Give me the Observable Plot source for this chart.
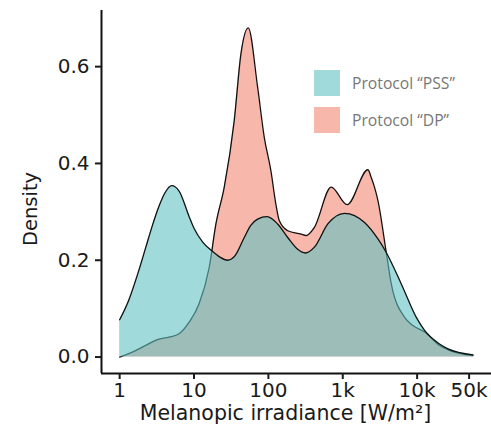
<!DOCTYPE html>
<html><head><meta charset="utf-8">
<script src="https://cdn.jsdelivr.net/npm/d3@7"></script>
<script src="https://cdn.jsdelivr.net/npm/@observablehq/plot@0.6"></script>
<style>
body{margin:0;background:#fff;}
#wrap{position:relative;width:491px;height:428px;}
.leg{position:absolute;left:314px;height:26px;display:flex;align-items:center;font-family:"Open Sans",sans-serif;font-size:15.7px;color:#777;}
.leg span.sw{display:inline-block;width:26px;height:26px;margin-right:12px;}
</style></head><body><div id="wrap"></div>
<script>
// Data
const seriesNames = ["Protocol “PSS”", "Protocol “DP”"];
const seriesColors = ["#a0dadb", "#f8b7ab"];
const pssX = [1, 1.33, 1.82, 2.24, 2.76, 3.39, 4.17, 5.0, 6.3, 8.6, 10, 13, 17.2, 22, 28.3, 35, 47.4, 58, 71.7, 96, 133, 182, 250, 314, 416, 630, 1055, 1963, 2972, 3845, 6124, 9750, 12600, 20000, 26000, 56600];
const pssY = [0.077, 0.118, 0.180, 0.226, 0.272, 0.312, 0.342, 0.354, 0.343, 0.290, 0.266, 0.238, 0.220, 0.207, 0.200, 0.208, 0.247, 0.272, 0.285, 0.290, 0.275, 0.247, 0.222, 0.215, 0.227, 0.275, 0.297, 0.278, 0.244, 0.216, 0.151, 0.082, 0.055, 0.027, 0.017, 0.0045];
const dpX = [1, 1.48, 2.24, 3.22, 4.62, 6.3, 8.6, 11.7, 16, 19.7, 25.5, 34.7, 42.7, 53.6, 71.7, 88, 108, 126, 140, 182, 275, 321, 416, 698, 1146, 2178, 2415, 2672, 2972, 3845, 4490, 6790, 8800, 12600, 20000, 26000, 56000];
const dpY = [0.0, 0.01, 0.024, 0.036, 0.041, 0.048, 0.072, 0.11, 0.185, 0.275, 0.351, 0.488, 0.626, 0.68, 0.557, 0.454, 0.385, 0.316, 0.282, 0.261, 0.254, 0.251, 0.268, 0.351, 0.315, 0.387, 0.371, 0.351, 0.323, 0.216, 0.151, 0.082, 0.065, 0.052, 0.024, 0.015, 0.003];
const xTicks = [1, 10, 100, 1000, 10000, 50000];
const xTickLabels = ["1", "10", "100", "1k", "10k", "50k"];
const yTicks = [0, 0.2, 0.4, 0.6];
const xLabel = "Melanopic irradiance [W/m²]";
const yLabel = "Density";
const xDomain = [0.57, 100000];
const yDomain = [-0.034, 0.716];

const pss = pssX.map((x, i) => ({x, y: pssY[i]}));
const dp = dpX.map((x, i) => ({x, y: dpY[i]}));
const curve = "monotone-x";

const plot = Plot.plot({
  width: 491, height: 428,
  marginLeft: 101, marginRight: 0, marginTop: 10, marginBottom: 55,
  x: {type: "log", domain: xDomain},
  y: {domain: yDomain},
  style: {fontFamily: "DejaVu Sans", fontSize: "20px", color: "#1a1a1a", background: "#fff", overflow: "visible"},
  marks: [
    Plot.areaY(dp, {x: "x", y: "y", fill: seriesColors[1], curve}),
    Plot.lineY(dp, {x: "x", y: "y", stroke: "#111", strokeWidth: 1.3, curve}),
    Plot.areaY(pss, {x: "x", y: "y", fill: "#61c1c3", fillOpacity: 0.6, curve}),
    Plot.lineY(pss, {x: "x", y: "y", stroke: "#111", strokeWidth: 1.3, curve}),
    Plot.ruleX([xDomain[0]], {stroke: "#111", strokeWidth: 2}),
    Plot.ruleY([yDomain[0]], {stroke: "#111", strokeWidth: 2}),
    Plot.axisX({ticks: xTicks, tickFormat: () => "", tickSize: 6, tickPadding: 3, strokeWidth: 2, label: null}),
    Plot.text(xTickLabels, {x: (d, i) => xTicks[i], frameAnchor: "bottom", lineAnchor: "top", dy: 9, fontSize: 20}),
    Plot.axisY({ticks: yTicks, tickFormat: d3.format(".1f"), tickSize: 6, tickPadding: 6, strokeWidth: 2, fontSize: 20, label: null}),
    Plot.text([xLabel], {frameAnchor: "bottom", dy: 46, dx: -11, fontSize: 20.5}),
    Plot.text([yLabel], {frameAnchor: "left", dx: -71, dy: 54, rotate: -90, fontSize: 19.5})
  ]
});
const wrap = document.getElementById("wrap");
wrap.appendChild(plot);
seriesNames.forEach((name, i) => {
  const d = document.createElement("div");
  d.className = "leg";
  d.style.top = (70 + i * 37) + "px";
  const sw = document.createElement("span");
  sw.className = "sw";
  sw.style.background = seriesColors[i];
  d.appendChild(sw);
  d.appendChild(document.createTextNode(name));
  wrap.appendChild(d);
});
</script>
</body></html>
